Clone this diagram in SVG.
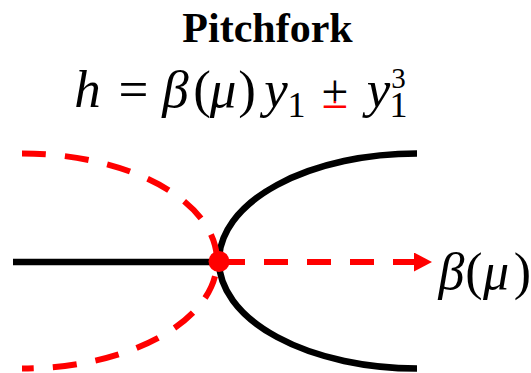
<svg xmlns="http://www.w3.org/2000/svg" width="531" height="373" viewBox="0 0 531 373">
<style>
.t{font-family:"Liberation Serif","Times New Roman",serif;}
.m{font-family:"Liberation Serif","Times New Roman",serif;font-size:53px;text-anchor:middle;}
.s{font-size:36px;}
.sup{font-size:29px;}
.pm{font-size:48px;}
.ax{font-size:52px;}
.i{font-style:italic;}
.blk{fill:none;stroke:#000;stroke-width:6.5;}
.rd{fill:none;stroke:#f00;stroke-width:6;stroke-dasharray:24 19;}
</style>
<defs>
<marker id="arr" markerWidth="18" markerHeight="19" refX="0" refY="9.5" orient="auto" markerUnits="userSpaceOnUse">
<path d="M0,0 L18,9.5 L0,19 Z" fill="#f00"/>
</marker>
<clipPath id="top"><rect x="310" y="60" width="50" height="41"/></clipPath>
<clipPath id="low"><rect x="310" y="101" width="50" height="20"/></clipPath>
</defs>
<rect width="531" height="373" fill="#fff"/>
<g id="title"><text class="t" x="267.5" y="42" font-size="42" font-weight="bold" text-anchor="middle">Pitchfork</text></g>
<g id="equation">
<text class="m i" x="87.5" y="107">h</text>
<text class="m" x="133.5" y="107">=</text>
<text class="m i" x="175.5" y="107">β</text>
<text class="m" x="202" y="107">(</text>
<text class="m i" x="223" y="107">μ</text>
<text class="m" x="247" y="107">)</text>
<text class="m i" x="276" y="107">y</text>
<text class="m s" x="296.5" y="117">1</text>
<text class="m pm" x="335" y="108" clip-path="url(#top)">±</text>
<text class="m pm" x="335" y="108" fill="#f00" clip-path="url(#low)">±</text>
<text class="m i" x="378.5" y="107">y</text>
<text class="m sup" x="398.5" y="88">3</text>
<text class="m s" x="398.5" y="117">1</text>
</g>
<g id="connectors">
<path id="stable-left" class="blk" d="M13,262 H217"/>
<path id="stable-branches" class="blk" d="M417,153.5 A198,107.5 0 0 0 219,261 A198,107.5 0 0 0 417,368.5"/>
<path id="unstable-branches" class="rd" d="M22,153.5 A195,107.5 0 0 1 217,261 A195,107.5 0 0 1 22,368.5"/>
<path id="axis" class="rd" d="M221,262 H414" stroke-dasharray="23 19.3" marker-end="url(#arr)"/>
</g>
<g id="bifurcation-point"><circle cx="219" cy="261.5" r="10.5" fill="#f00"/></g>
<g id="axis-label">
<text class="m i ax" x="451.5" y="289">β</text>
<text class="m ax" x="474" y="289">(</text>
<text class="m i ax" x="496" y="289">μ</text>
<text class="m ax" x="522.5" y="289">)</text>
</g>
</svg>
